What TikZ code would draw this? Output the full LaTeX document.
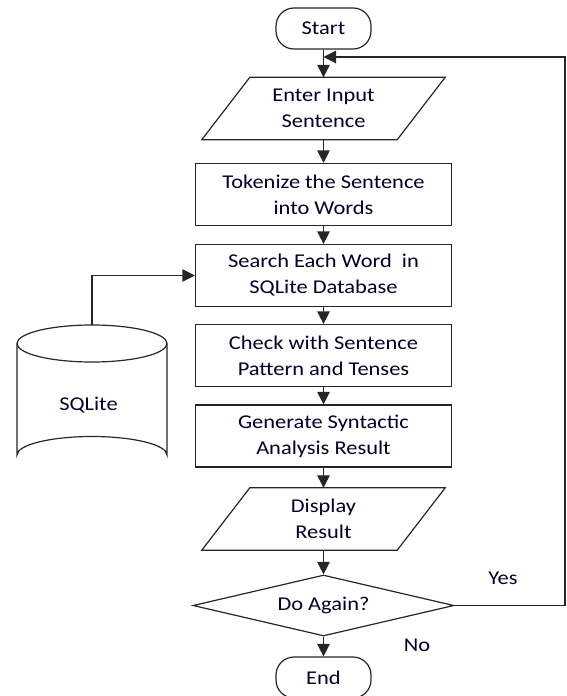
\documentclass[tikz,border=0pt]{standalone}
\usepackage{fontspec}
\setmainfont{Carlito}[FakeStretch=1.15]
\usetikzlibrary{shapes.geometric,arrows.meta,calc}

\begin{document}
\begin{tikzpicture}[x=1pt,y=-1pt,
  every node/.style={font=\fontsize{19.5}{26}\selectfont, align=center, inner sep=0pt, text=black!85!blue},
  flowline/.style={line width=1.2pt, draw=black!85},
  arrowline/.style={flowline, -{Triangle[length=12.5pt,width=12.5pt]}},
  terminal/.style={draw, flowline, rectangle, rounded corners=18pt, minimum width=95pt, minimum height=41pt},
  process/.style={draw, flowline, rectangle, minimum width=256pt, minimum height=62pt},
  iobody/.style={rectangle, minimum width=195pt, minimum height=62pt},
  decision/.style={draw, flowline, diamond, aspect=4.28, minimum width=261pt, minimum height=61pt},
]
\useasboundingbox (0,0) rectangle (567,696);

% main flow
\node[terminal] (start)   at (323.5,28.5)  {Start};
\node[iobody]   (input)   at (323.5,108.5) {Enter Input\\Sentence};
\node[process]  (token)   at (323.5,194.5) {Tokenize the Sentence\\into Words};
\node[process]  (search)  at (323.5,275.5) {Search Each Word\ \ in\\SQLite Database};
\node[process]  (check)   at (323.5,355.5) {Check with Sentence\\Pattern and Tenses};
\node[process]  (gen)     at (323.5,436)   {Generate Syntactic\\Analysis Result};
\node[iobody]   (display) at (323.5,519)   {Display\\Result};
\node[decision] (again)   at (323.5,605.5) {Do Again?};
\node[terminal] (end)     at (323.5,677.5) {End};

% slanted outlines of the input/output steps
\foreach \n in {input,display}{
  \draw[flowline] ($(\n.north west)+(24,0)$) -- ($(\n.north east)+(24,0)$)
    -- ($(\n.south east)+(-24,0)$) -- ($(\n.south west)+(-24,0)$) -- cycle;
}

% database cylinder
\draw[flowline] (17,343.5) -- (17,455)
  arc[start angle=180, end angle=360, x radius=75, y radius=18.5] -- (167,343.5);
\draw[flowline] (92,343.5) ellipse [x radius=75, y radius=18.5];
\node (db) at (88.5,405) {SQLite};
\coordinate (dbtop) at (92,325);

% connectors
\coordinate (merge) at (323.5,57);
\coordinate (looptop) at (565,57);
\draw[flowline] (start.south) -- (merge);
\draw[arrowline] (merge) -- (input.north);
\draw[arrowline] (input.south) -- (token.north);
\draw[arrowline] (token.south) -- (search.north);
\draw[arrowline] (search.south) -- (check.north);
\draw[arrowline] (check.south) -- (gen.north);
\draw[arrowline] (gen.south) -- (display.north);
\draw[arrowline] (display.south) -- (again.north);
\draw[arrowline] (again.south) -- (end.north);
\draw[arrowline] (again.east) -| (looptop) -- (merge);
\draw[arrowline] (dbtop) |- (search.west);

% branch labels
\node (yes) at (503,578) {Yes};
\node (no)  at (417,645) {No};
\end{tikzpicture}
\end{document}
